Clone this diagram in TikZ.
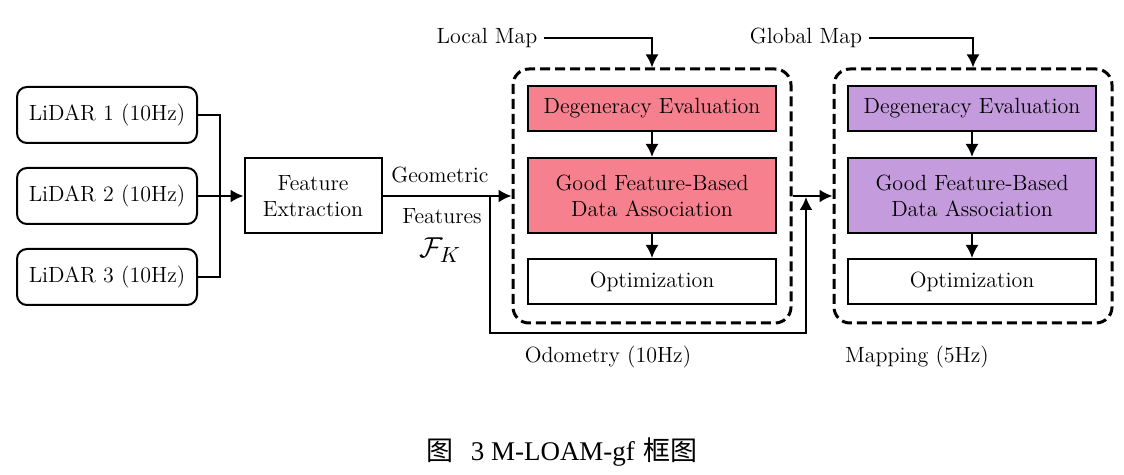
\documentclass[tikz,border=0pt]{standalone}
\usepackage{fontspec}
\newfontfamily\cjkfont{Noto Sans CJK SC}
\newfontfamily\capfont{Liberation Serif}
\usetikzlibrary{arrows.meta}
\definecolor{localpink}{RGB}{247,128,143}
\definecolor{globalpurple}{RGB}{196,155,221}
\tikzset{
  lidarbox/.style={draw, line width=1pt, rounded corners=5pt, minimum width=90pt, minimum height=28pt},
  featbox/.style={draw, line width=1pt, align=center, minimum width=68.5pt, minimum height=37.5pt},
  stagebox/.style={draw, line width=1pt, align=center, minimum width=124pt, minimum height=22.5pt},
  groupbox/.style={draw, line width=1.5pt, dash pattern=on 5pt off 2.5pt, rounded corners=8pt,
    minimum width=139pt, minimum height=127pt},
  link/.style={line width=1pt, -{Latex[length=6.5pt,width=6.5pt]}},
  wire/.style={line width=1pt},
}
\begin{document}
\begin{tikzpicture}[x=0.5pt, y=-0.5pt, font=\fontsize{11}{13}\selectfont]
\useasboundingbox (0,0) rectangle (1124,475);
% sensors
\node[lidarbox] (lidar1) at (107,115) {LiDAR 1 (10Hz)};
\node[lidarbox] (lidar2) at (107,196) {LiDAR 2 (10Hz)};
\node[lidarbox] (lidar3) at (107,277) {LiDAR 3 (10Hz)};
\node[featbox] (feat) at (313,196) {Feature\\Extraction};
\coordinate (merge) at (220,196);
\draw[wire] (lidar1.east) -| (merge);
\draw[wire] (lidar3.east) -| (merge);
\draw[link] (lidar2.east) -- (feat.west);
% odometry
\node[groupbox] (localgrp) at (652,196) {};
\node[stagebox, fill=localpink] (ldeg) at (652,108.5) {Degeneracy Evaluation};
\node[stagebox, fill=localpink, minimum height=37.5pt] (lgood) at (652,195.5) {Good Feature-Based\\Data Association};
\node[stagebox] (lopt) at (652,281.5) {Optimization};
\draw[link] (ldeg) -- (lgood);
\draw[link] (lgood) -- (lopt);
% mapping
\node[groupbox] (globalgrp) at (973,196) {};
\node[stagebox, fill=globalpurple] (gdeg) at (972,108.5) {Degeneracy Evaluation};
\node[stagebox, fill=globalpurple, minimum height=37.5pt] (ggood) at (972,195.5) {Good Feature-Based\\Data Association};
\node[stagebox] (gopt) at (972,281.5) {Optimization};
\draw[link] (gdeg) -- (ggood);
\draw[link] (ggood) -- (gopt);
% features into odometry
\draw[link] (feat.east) -- (localgrp.west);
\node (geo) at (440,175) {Geometric};
\node (featlbl) at (442,216) {Features};
\node[font=\fontsize{15}{17}\selectfont] (fk) at (440,250) {$\mathcal{F}_K$};
% odometry output into mapping
\coordinate (split) at (490,196);
\coordinate (odomturn) at (806,333);
\coordinate (bridge) at (806,197);
\draw[link] (split) |- (odomturn) -- (bridge);
\draw[link] (localgrp.east) -- (globalgrp.west);
\node (odomlbl) at (608,357) {Odometry (10Hz)};
\node (maplbl) at (917,357) {Mapping (5Hz)};
% maps
\node (localmap) at (487,38) {Local Map};
\node (globalmap) at (806,38) {Global Map};
\draw[link] (localmap.east) -| (localgrp.north);
\draw[link] (globalmap.east) -| (globalgrp.north);
% caption
\node[font=\fontsize{13.5}{15}\selectfont] (caption) at (562,452) {{\cjkfont 图}\ \ {\capfont 3 M-LOAM-gf} {\cjkfont 框图}};
\end{tikzpicture}
\end{document}
